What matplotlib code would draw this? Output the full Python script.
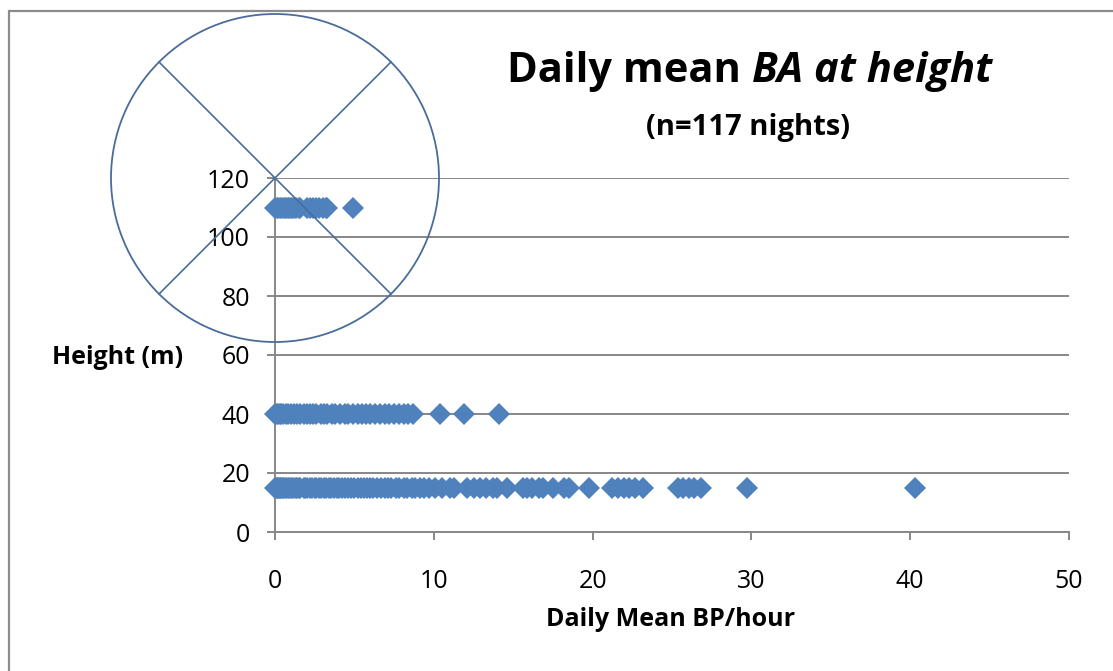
import matplotlib
matplotlib.use("Agg")
import matplotlib.pyplot as plt
from matplotlib.patches import Ellipse, Rectangle
from matplotlib.lines import Line2D

plt.rcParams['font.family'] = ['Open Sans', 'DejaVu Sans']

# ---- data ----
bp_15m = [0.0, 0.1, 0.1, 0.2, 0.2, 0.3, 0.3, 0.4, 0.5, 0.5, 0.6, 0.7, 0.8, 0.9, 1.0,
          1.1, 1.2, 1.3, 1.4, 1.5, 1.6, 1.8, 1.9, 2.0, 2.2, 2.3, 2.5, 2.6, 2.8, 2.9,
          3.1, 3.2, 3.4, 3.5, 3.7, 3.9, 4.0, 4.2, 4.4, 4.6, 4.8, 5.0, 5.2, 5.4, 5.6,
          5.8, 6.0, 6.2, 6.4, 6.7, 6.9, 7.1, 7.3, 7.6, 7.8, 8.1, 8.3, 8.6, 8.8, 9.1,
          9.4, 9.7, 10.1, 10.5, 11.0, 11.3, 12.1, 12.5, 12.9, 13.3, 13.7, 14.0, 14.6,
          15.6, 15.9, 16.2, 16.6, 16.9, 17.5, 18.2, 18.5, 19.8, 21.2, 21.6, 22.0,
          22.3, 22.7, 23.2, 25.4, 25.7, 26.1, 26.4, 26.8, 29.7, 40.3]
bp_40m = [0.0, 0.1, 0.2, 0.3, 0.4, 0.5, 0.7, 0.8, 1.0, 1.2, 1.4, 1.6, 1.8, 2.0, 2.2,
          2.4, 2.6, 2.9, 3.1, 3.3, 3.6, 3.8, 4.1, 4.4, 4.6, 4.9, 5.2, 5.5, 5.7, 6.0,
          6.3, 6.6, 6.9, 7.2, 7.5, 7.8, 8.1, 8.4, 8.7, 10.4, 11.9, 14.1]
bp_110m = [0.0, 0.1, 0.2, 0.3, 0.4, 0.5, 0.6, 0.7, 0.8, 0.9, 1.0, 1.1, 1.2, 1.3, 1.5,
           1.6, 2.0, 2.2, 2.4, 2.6, 2.8, 3.0, 3.2, 3.3, 4.9]
heights = [15, 40, 110]

xticks = [0, 10, 20, 30, 40, 50]
yticks = [0, 20, 40, 60, 80, 100, 120]

W, H = 1113, 671
fig = plt.figure(figsize=(W / 100, H / 100), dpi=100)

# outer frame
fig.patches.append(Rectangle((8.5 / W, -0.1), 1.2, 1 - 11.5 / H + 0.1,
                             transform=fig.transFigure, fill=False,
                             edgecolor='#8c8c8c', linewidth=1.6))

ax_l, ax_r, ax_b, ax_t = 275, 1069, 532, 178
ax = fig.add_axes([ax_l / W, 1 - ax_b / H, (ax_r - ax_l) / W, (ax_b - ax_t) / H])

grey = '#878787'
blue = '#4F81BD'
for vals, h in zip([bp_15m, bp_40m, bp_110m], heights):
    ax.plot(vals, [h] * len(vals), linestyle='none', marker='D', markersize=11.5,
            color=blue, markeredgewidth=0, zorder=3, clip_on=False)

ax.set_xlim(0, 50)
ax.set_ylim(0, 120)
ax.set_xticks(xticks)
ax.set_yticks(yticks)
ax.set_xticklabels([str(t) for t in xticks])
ax.set_yticklabels([str(t) for t in yticks])
ax.yaxis.grid(True, color=grey, linewidth=1.4)
ax.set_axisbelow(True)
for s in ['top', 'right']:
    ax.spines[s].set_visible(False)
for s in ['left', 'bottom']:
    ax.spines[s].set_color(grey)
    ax.spines[s].set_linewidth(1.4)
ax.tick_params(axis='both', colors=grey, width=1.4, length=6, direction='out',
               labelsize=18, labelcolor='black')
ax.tick_params(axis='x', pad=21)
ax.tick_params(axis='y', pad=12)

# labels
fig.text(118 / W, 1 - 357 / H, 'Height (m)', ha='center', va='center',
         fontsize=18, fontweight='bold')
fig.text(671 / W, 1 - 620 / H, 'Daily Mean BP/hour', ha='center', va='center',
         fontsize=18, fontweight='bold')

# title (normal + italic part)
t1 = fig.text(507 / W, 1 - 72 / H, 'Daily mean ', ha='left', va='center',
              fontsize=30, fontweight='bold')
ax.annotate('BA at height', xy=(1, 0), xycoords=t1, ha='left', va='bottom',
            fontsize=30, fontweight='bold', style='italic', annotation_clip=False)
fig.text(748 / W, 1 - 127 / H, '(n=117 nights)', ha='center', va='center',
         fontsize=21, fontweight='bold')

# circle with cross, centred on the axis top-left corner
cx, cy = ax_l / W, 1 - ax_t / H
r = 164
circ_col = '#4A6C9B'
fig.patches.append(Ellipse((cx, cy), 2 * r / W, 2 * r / H, transform=fig.transFigure,
                           fill=False, edgecolor=circ_col, linewidth=1.3, zorder=5))
d = r * 0.7071
fig.lines.append(Line2D([cx - d / W, cx + d / W], [cy + d / H, cy - d / H],
                        transform=fig.transFigure, color=circ_col, linewidth=1.2, zorder=5))
fig.lines.append(Line2D([cx - d / W, cx + d / W], [cy - d / H, cy + d / H],
                        transform=fig.transFigure, color=circ_col, linewidth=1.2, zorder=5))

fig.savefig('out.png', dpi=100)
